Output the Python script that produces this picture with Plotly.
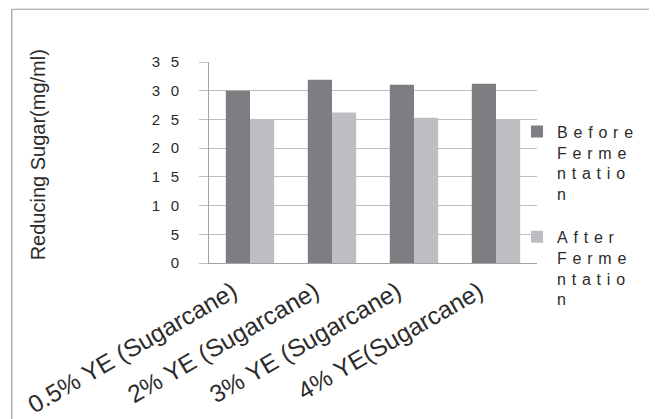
import plotly.graph_objects as go

categories = ["0.5% YE (Sugarcane)", "2% YE (Sugarcane)", "3% YE (Sugarcane)", "4% YE(Sugarcane)"]
before = [30.0, 31.9, 31.05, 31.2]
after = [25.0, 26.2, 25.3, 25.0]
y_tickvals = [0, 5, 10, 15, 20, 25, 30, 35]
y_ticktext = ["0", "5", "1\u2002\u20090", "1\u2002\u20095", "2\u2002\u20090", "2\u2002\u20095",
              "3\u2002\u20090", "3\u2002\u20095"]
before_lines = ["Before", "Ferme", "ntatio", "n"]
after_lines = ["After", "Ferme", "ntatio", "n"]
y_title = "Reducing Sugar(mg/ml)"

SP = "\u00a0\u200a"


def spaced(lines):
    return "<br>".join(SP.join(list(l)) for l in lines)


# page body has an 8px margin; work in screen pixels and convert
OFF = 8
W, H = 657 - OFF, 419 - OFF
L, R, T, B = 208.5 - OFF, 537.0 - OFF, 62.3 - OFF, 263.5 - OFF


def px(x):
    return (x - OFF - L) / (R - L)


def py(y):
    return (B - (y - OFF)) / (B - T)


DARK = "#7e7e82"
LIGHT = "#bdbec2"
GRID = "#bfbfbf"
AXIS = "#a3a3a3"
TXT = "#2b2b2b"
FONT = "Liberation Sans, Arial, sans-serif"

fig = go.Figure()
fig.add_trace(go.Bar(x=categories, y=before, name=spaced(before_lines), marker_color=DARK,
                     marker_line_width=0, legendgroup="a"))
fig.add_trace(go.Bar(x=categories, y=after, name=spaced(after_lines), marker_color=LIGHT,
                     marker_line_width=0, legendgroup="b"))

fig.update_layout(
    width=W, height=H,
    margin=dict(l=L, r=W - R, t=T, b=H - B, pad=0, autoexpand=False),
    paper_bgcolor="white", plot_bgcolor="white",
    barmode="group", bargap=0.41, bargroupgap=0,
    font=dict(family=FONT, color=TXT),
    legend=dict(x=px(517), y=py(115), xanchor="left", yanchor="top",
                font=dict(size=16, color=TXT), valign="top", tracegroupgap=19,
                bgcolor="rgba(0,0,0,0)", maxheight=400),
    xaxis=dict(range=[-0.5, 3.5], tickangle=-30, tickfont=dict(size=24.5, color=TXT),
               showline=True, linecolor=AXIS, linewidth=1, ticks="", showgrid=False,
               automargin=False, ticklabelshift=-17, ticklabelstandoff=4),
    yaxis=dict(range=[0, 35], tickvals=y_tickvals, ticktext=y_ticktext,
               tickfont=dict(size=15, color=TXT), showgrid=True, gridcolor=GRID, gridwidth=1,
               ticks="outside", ticklen=9, tickcolor=GRID, showline=True, linecolor=AXIS,
               linewidth=1, zeroline=False, ticklabelstandoff=17, automargin=False),
    annotations=[dict(text=y_title, textangle=-90, x=px(37), y=py(155), xref="paper", yref="paper",
                      showarrow=False, font=dict(size=20, color=TXT), xanchor="center",
                      yanchor="middle")],
    shapes=[
        dict(type="line", xref="paper", yref="paper", x0=px(11), x1=px(670), y0=py(9.5), y1=py(9.5),
             line=dict(color="#9c9c9c", width=1.2)),
        dict(type="line", xref="paper", yref="paper", x0=px(11), x1=px(11), y0=py(9.5), y1=py(430),
             line=dict(color="#9c9c9c", width=1.2)),
    ],
)

fig.write_html("out.html")
